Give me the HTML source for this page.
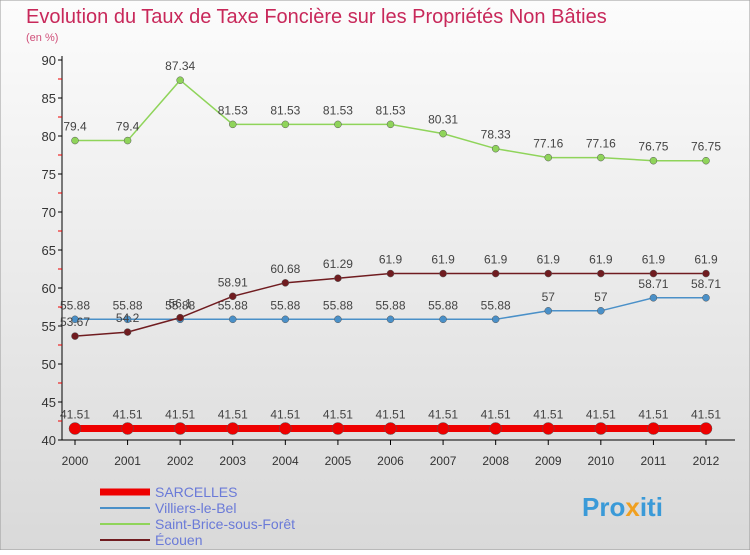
<!DOCTYPE html>
<html><head><meta charset="utf-8"><style>
body{margin:0;width:750px;height:550px;overflow:hidden;font-family:"Liberation Sans",sans-serif;}
svg text{font-family:"Liberation Sans",sans-serif;}
</style></head><body>
<svg width="750" height="550">
<defs><linearGradient id="bg" x1="0" y1="0" x2="0" y2="1"><stop offset="0" stop-color="#fcfcfc"/><stop offset="1" stop-color="#d9d9d9"/></linearGradient></defs>
<rect width="750" height="550" fill="url(#bg)" stroke="#999"/>
<text x="26" y="23" font-size="20" fill="#c8285a">Evolution du Taux de Taxe Foncière sur les Propriétés Non Bâties</text>
<text x="26" y="41" font-size="11" fill="#d0507a">(en %)</text>
<g id="axes"></g><g id="series"></g>
<g>
<line x1="100" y1="492" x2="150" y2="492" stroke="#ee0000" stroke-width="7"/><text x="155" y="497" font-size="14" fill="#6a7ad8">SARCELLES</text>
<line x1="100" y1="508" x2="150" y2="508" stroke="#4a90c8" stroke-width="2"/><text x="155" y="513" font-size="14" fill="#6a7ad8">Villiers-le-Bel</text>
<line x1="100" y1="524" x2="150" y2="524" stroke="#8fd45a" stroke-width="2"/><text x="155" y="529" font-size="14" fill="#6a7ad8">Saint-Brice-sous-Forêt</text>
<line x1="100" y1="540" x2="150" y2="540" stroke="#701c20" stroke-width="2"/><text x="155" y="545" font-size="14" fill="#6a7ad8">Écouen</text>
</g>
<text x="582" y="516" font-size="26" font-weight="bold" fill="#3a9ad8">Pro<tspan fill="#f0a020">x</tspan>iti</text>
</svg>
<script>
const years=[2000,2001,2002,2003,2004,2005,2006,2007,2008,2009,2010,2011,2012];
const yTicks=[40,45,50,55,60,65,70,75,80,85,90];
const sarcelles=[41.51,41.51,41.51,41.51,41.51,41.51,41.51,41.51,41.51,41.51,41.51,41.51,41.51];
const villiers=[55.88,55.88,55.88,55.88,55.88,55.88,55.88,55.88,55.88,57,57,58.71,58.71];
const saintBrice=[79.4,79.4,87.34,81.53,81.53,81.53,81.53,80.31,78.33,77.16,77.16,76.75,76.75];
const ecouen=[53.67,54.2,56.1,58.91,60.68,61.29,61.9,61.9,61.9,61.9,61.9,61.9,61.9];
const NS="http://www.w3.org/2000/svg";
const xs=i=>75+i*(706-75)/12, ys=v=>440-(v-40)*7.6;
function mk(t,a,p){const e=document.createElementNS(NS,t);for(const k in a)e.setAttribute(k,a[k]);p.appendChild(e);return e;}
const ax=document.getElementById('axes'), sg=document.getElementById('series');
const yl=mk('line',{x1:62,y1:56,x2:62,y2:440,stroke:'#000'},ax);


const xl=mk('line',{x1:62,y1:440,x2:735,y2:440,stroke:'#000'},ax);


yTicks.forEach(v=>{const y=ys(v);mk('line',{x1:58,y1:y,x2:62,y2:y,stroke:'#000'},ax);
if(v<90)mk('line',{x1:58,y1:y-19,x2:62,y2:y-19,stroke:'#e00'},ax);
const t=mk('text',{x:56,y:y+5,'font-size':13,fill:'#333','text-anchor':'end'},ax);t.textContent=v;

});
years.forEach((yr,i)=>{const x=xs(i);mk('line',{x1:x,y1:440,x2:x,y2:445,stroke:'#000'},ax);
const t=mk('text',{x:x,y:465,'font-size':12,fill:'#333','text-anchor':'middle'},ax);t.textContent=yr;

});
function series(d,col,w,r,name,fill){
const l=mk('polyline',{points:d.map((v,i)=>xs(i)+','+ys(v)).join(' '),fill:'none',stroke:col,'stroke-width':w},sg);


d.forEach((v,i)=>{const c=mk('circle',{cx:xs(i),cy:ys(v),r:r,fill:fill,stroke:'#555','stroke-width':0.5},sg);


const t=mk('text',{x:xs(i),y:ys(v)-10,'font-size':12,fill:'#444','text-anchor':'middle'},sg);t.textContent=v;

});}
series(saintBrice,'#8fd45a',1.5,3.5,'saint-brice','#8fd45a');
series(villiers,'#4a90c8',1.5,3.5,'villiers','#4a90c8');
series(ecouen,'#701c20',1.5,3.5,'ecouen','#701c20');
series(sarcelles,'#ee0000',7,6,'sarcelles','#ee0000');
</script>
</body></html>
